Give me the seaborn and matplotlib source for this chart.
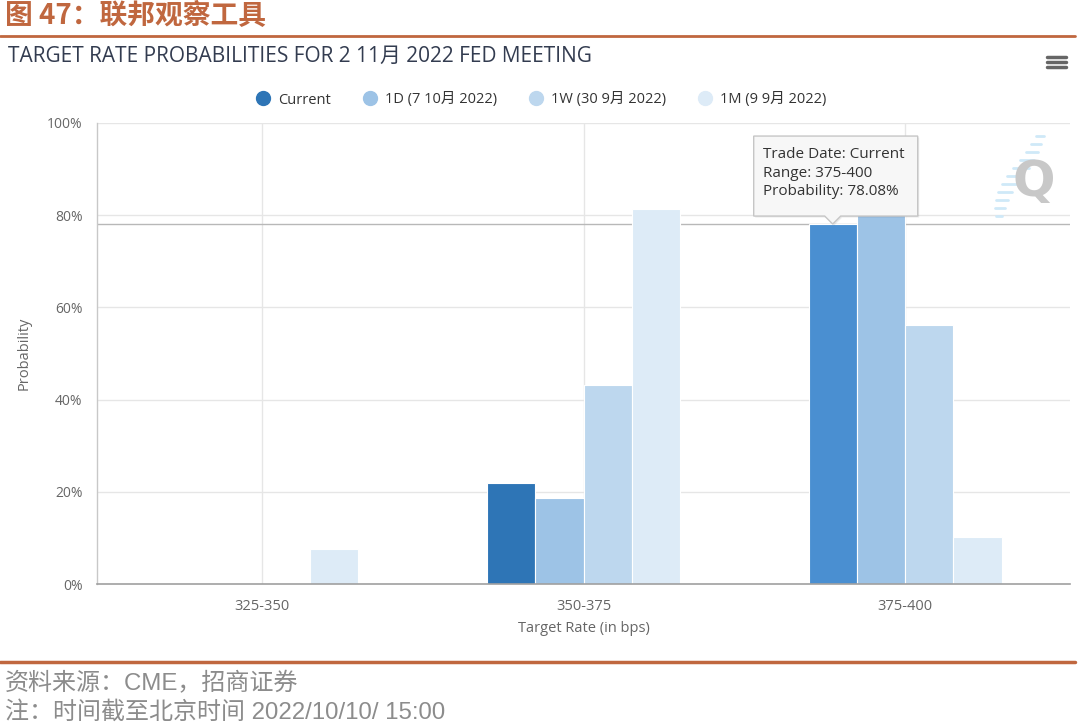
import numpy as np
import pandas as pd
import matplotlib
matplotlib.use("Agg")
import matplotlib.pyplot as plt
import seaborn as sns
from matplotlib.lines import Line2D
from matplotlib.patches import Polygon

# ---- data -------------------------------------------------------------
ranges = ["325-350", "350-375", "375-400"]
series_names = ["Current", "1D (7 10月 2022)", "1W (30 9月 2022)", "1M (9 9月 2022)"]
current = [0.0, 21.92, 78.08]
one_day = [0.0, 18.7, 81.3]
one_week = [0.0, 43.2, 56.2]
one_month = [7.6, 81.3, 10.2]
y_ticks = [0, 20, 40, 60, 80, 100]
y_tick_labels = ["0%", "20%", "40%", "60%", "80%", "100%"]

palette = ["#2e75b6", "#9dc3e6", "#bdd7ee", "#ddebf7"]
hover_color = "#4a8fd1"
accent = "#c0673f"

df = pd.DataFrame({
    "range": ranges * 4,
    "series": np.repeat(series_names, len(ranges)),
    "prob": current + one_day + one_week + one_month,
})

sns.set_theme(style="white")
plt.rcParams["font.family"] = ["Open Sans", "Noto Sans CJK SC", "DejaVu Sans"]
CJK = ["Noto Sans CJK SC", "DejaVu Sans"]
FOOT = ["Liberation Sans", "Noto Sans CJK SC", "DejaVu Sans"]

W, H = 1080, 728
fig = plt.figure(figsize=(W / 100, H / 100), dpi=100)


def fx(x):
    return x / W


def fy(y):
    return 1 - y / H


# plot area
ax = fig.add_axes([fx(97), fy(584), fx(1070) - fx(97), (584 - 123) / H])

sns.barplot(data=df, x="range", y="prob", hue="series", order=ranges,
            hue_order=series_names, palette=palette, width=0.6, dodge=True,
            gap=0, saturation=1, linewidth=0.8, edgecolor="white",
            legend=False, ax=ax, zorder=2)

# hovered bar is drawn in its highlight colour
for p in ax.patches:
    if abs(p.get_height() - current[2]) < 1e-6:
        p.set_facecolor(hover_color)

ax.set_xlim(-0.513, 2.513)
ax.set_ylim(0, 100)
ax.set_yticks(y_ticks)
ax.set_yticklabels(y_tick_labels)
ax.tick_params(axis="y", length=8.5, width=1, color="#e6e6e6", pad=2,
               labelsize=10, labelcolor="#666666")
ax.tick_params(axis="x", length=6, width=1, color="#c0c0c0", pad=5,
               labelsize=10.5, labelcolor="#666666")
ax.grid(True, axis="both", color="#e6e6e6", lw=1, zorder=0)
ax.set_axisbelow(True)
for side in ["top", "right"]:
    ax.spines[side].set_visible(False)
ax.spines["left"].set_color("#c8c8c8")
ax.spines["bottom"].set_color("#a0a0a0")
ax.spines["left"].set_linewidth(1)
ax.spines["bottom"].set_linewidth(1.2)

ax.set_xlabel("Target Rate (in bps)", fontsize=10.5, color="#666666", labelpad=5)
ax.set_ylabel("Probability", fontsize=10.5, color="#666666", labelpad=11)

# crosshair at the hovered value
ax.axhline(current[2], color="#b8b8b8", lw=1, zorder=1.5)

# ---- header -----------------------------------------------------------
fig.text(fx(5), fy(16), "图 47：联邦观察工具", family=CJK, fontsize=20,
         fontweight="bold", color=accent, va="center", ha="left")
fig.add_artist(Line2D([fx(0), fx(1075)], [fy(36), fy(36)], color=accent, lw=2))

fig.text(fx(8), fy(56), "TARGET RATE PROBABILITIES FOR 2 11月 2022 FED MEETING",
         fontsize=15, color="#333c50", va="center", ha="left")

# menu icon
for yy in (57, 62, 67):
    fig.add_artist(Line2D([fx(1047), fx(1066)], [fy(yy), fy(yy)],
                          color="#666666", lw=2.5, solid_capstyle="round"))

# legend
handles = [Line2D([], [], marker="o", ls="", markersize=10, markerfacecolor=c,
                  markeredgecolor=c) for c in palette]
fig.legend(handles, series_names, loc="center", bbox_to_anchor=(fx(541), fy(100)),
           ncol=4, frameon=False, fontsize=10.5, labelcolor="#333333",
           handletextpad=0.5, columnspacing=2.2, handlelength=1.0)

# watermark logo: streaks behind a grey "Q"
streaks = [(1036, 136, 8), (1031, 144, 10), (1026, 152, 12), (1020, 160, 14),
           (1013, 168, 16), (1007, 176, 16), (1002, 184, 14), (998, 192, 14),
           (996, 200, 12), (995, 208, 10), (996, 216, 6)]
for x0, y0, ln in streaks:
    fig.add_artist(Line2D([fx(x0), fx(x0 + ln)], [fy(y0), fy(y0)],
                          color="#cfe9f8", lw=2))
fig.text(fx(1034), fy(182), "Q", fontsize=36, fontweight="bold",
         color="#c8c8c8", ha="center", va="center", family=["DejaVu Sans"])

# ---- tooltip ----------------------------------------------------------
fig.canvas.draw()
tip_disp = ax.transData.transform((2 - 0.225, current[2]))
tx, ty = tip_disp[0], H - tip_disp[1]
L, R, T, B = tx - 79, tx + 85, ty - 88, ty - 8
pts = [(L, B), (tx - 8, B), (tx, ty), (tx + 8, B), (R, B), (R, T), (L, T)]
shadow = Polygon([(fx(x + 1.5), fy(y + 1.5)) for x, y in pts], closed=True,
                 facecolor="#000000", alpha=0.08, edgecolor="none",
                 transform=fig.transFigure)
box = Polygon([(fx(x), fy(y)) for x, y in pts], closed=True,
              facecolor="#f7f7f7", edgecolor="#c6c6c6", lw=1,
              transform=fig.transFigure)
fig.add_artist(shadow)
fig.add_artist(box)
for off, line in zip((18, 37, 55), ("Trade Date: Current", "Range: 375-400",
                                    "Probability: 78.08%")):
    fig.text(fx(L + 9), fy(T + off), line, fontsize=11, color="#333333",
             ha="left", va="center")

# ---- footer -----------------------------------------------------------
fig.add_artist(Line2D([fx(0), fx(1075)], [fy(662), fy(662)], color=accent, lw=2.5))
fig.text(fx(5), fy(684), "资料来源：CME，招商证券", family=FOOT, fontsize=17.3,
         color="#8c8c8c", ha="left", va="center")
fig.text(fx(5), fy(712), "注：时间截至北京时间 2022/10/10/ 15:00", family=FOOT,
         fontsize=17.3, color="#8c8c8c", ha="left", va="center")

fig.savefig("out.png", dpi=100)
